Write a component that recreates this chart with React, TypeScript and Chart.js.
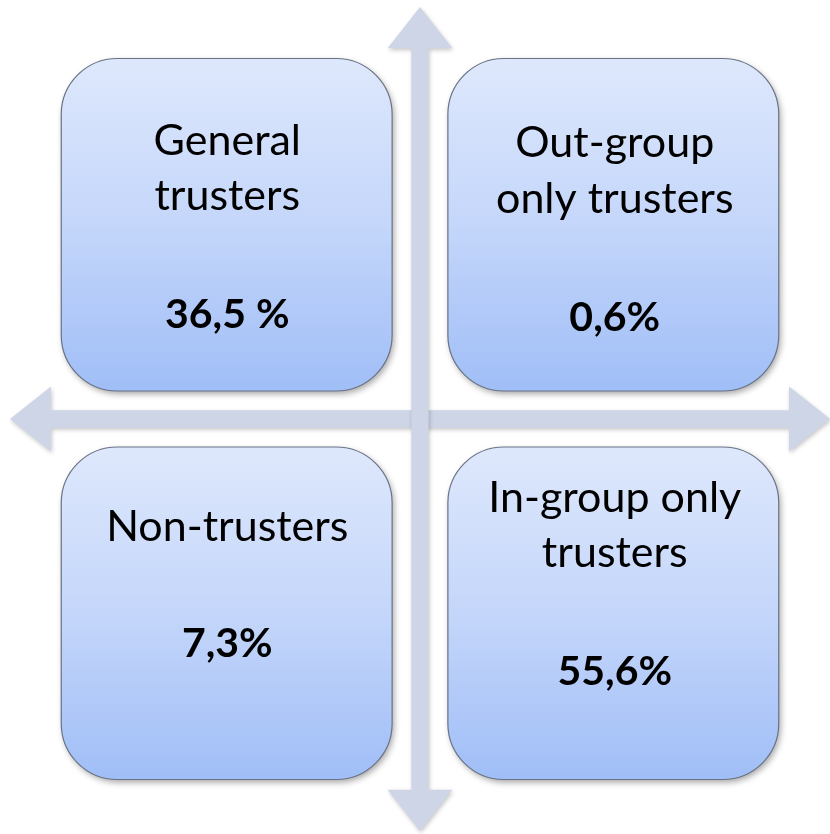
import React, { useEffect, useRef } from "react";
import { Chart, registerables } from "chart.js";

Chart.register(...registerables);

// Quadrant content
const quadrantLabels: string[][] = [
  ["General", "trusters"],
  ["Out-group", "only trusters"],
  ["Non-trusters"],
  ["In-group only", "trusters"],
];
const quadrantValues: string[] = ["36,5 %", "0,6%", "7,3%", "55,6%"];
// quadrant centres in axis units (x: -1..1, y: -1..1)
const quadrantX: number[] = [-0.47, 0.475, -0.47, 0.475];
const quadrantY: number[] = [0.472, 0.472, -0.47, -0.47];

// layout (axis units, text baselines)
const boxInner = 0.068;
const boxOuter = 0.875;
const labelLineY: number[][] = [
  [0.641, 0.507],
  [0.636, 0.5],
  [-0.296],
  [-0.226, -0.359],
];
const valueY: number[] = [0.221, 0.214, -0.578, -0.646];

const FONT = "Lato, 'Open Sans', sans-serif";

const quadrantPlugin = {
  id: "quadrants",
  beforeDatasetsDraw(chart: any) {
    const { ctx, scales } = chart;
    const xs = scales.x;
    const ys = scales.y;
    const px = (v: number) => xs.getPixelForValue(v);
    const py = (v: number) => ys.getPixelForValue(v);

    // arrows
    const shaft = 0.021;
    const headW = 0.079;
    const headLx = 0.1;
    const headLy = 0.1;
    ctx.save();
    ctx.fillStyle = "rgb(205,213,230)";
    ctx.shadowColor = "rgba(0,0,0,0.22)";
    ctx.shadowBlur = 4;
    ctx.shadowOffsetX = 1;
    ctx.shadowOffsetY = 2;
    // horizontal
    ctx.beginPath();
    ctx.moveTo(px(-1), py(0));
    ctx.lineTo(px(-1 + headLx), py(headW));
    ctx.lineTo(px(-1 + headLx), py(shaft));
    ctx.lineTo(px(1 - headLx), py(shaft));
    ctx.lineTo(px(1 - headLx), py(headW));
    ctx.lineTo(px(1), py(0));
    ctx.lineTo(px(1 - headLx), py(-headW));
    ctx.lineTo(px(1 - headLx), py(-shaft));
    ctx.lineTo(px(-1 + headLx), py(-shaft));
    ctx.lineTo(px(-1 + headLx), py(-headW));
    ctx.closePath();
    ctx.fill();
    // vertical
    ctx.beginPath();
    ctx.moveTo(px(0), py(1));
    ctx.lineTo(px(headW), py(1 - headLy));
    ctx.lineTo(px(shaft), py(1 - headLy));
    ctx.lineTo(px(shaft), py(-1 + headLy));
    ctx.lineTo(px(headW), py(-1 + headLy));
    ctx.lineTo(px(0), py(-1));
    ctx.lineTo(px(-headW), py(-1 + headLy));
    ctx.lineTo(px(-shaft), py(-1 + headLy));
    ctx.lineTo(px(-shaft), py(1 - headLy));
    ctx.lineTo(px(-headW), py(1 - headLy));
    ctx.closePath();
    ctx.fill();
    ctx.restore();

    // boxes
    quadrantX.forEach((cx, i) => {
      const sx = Math.sign(cx);
      const sy = Math.sign(quadrantY[i]);
      const x1 = px(sx < 0 ? -boxOuter : boxInner);
      const x2 = px(sx < 0 ? -boxInner : boxOuter);
      const y1 = py(sy > 0 ? boxOuter : -boxInner);
      const y2 = py(sy > 0 ? boxInner : -boxOuter);
      const w = x2 - x1;
      const h = y2 - y1;
      const r = 56;
      ctx.save();
      const g = ctx.createLinearGradient(0, y1, 0, y2);
      g.addColorStop(0, "rgb(222,232,252)");
      g.addColorStop(0.5, "rgb(196,214,250)");
      g.addColorStop(1, "rgb(160,190,247)");
      ctx.beginPath();
      ctx.roundRect(x1, y1, w, h, r);
      ctx.shadowColor = "rgba(0,0,0,0.35)";
      ctx.shadowBlur = 6;
      ctx.shadowOffsetX = 2;
      ctx.shadowOffsetY = 3;
      ctx.fillStyle = g;
      ctx.fill();
      ctx.shadowColor = "transparent";
      ctx.lineWidth = 1.2;
      ctx.strokeStyle = "rgb(105,115,135)";
      ctx.stroke();
      ctx.restore();

      // text
      ctx.save();
      ctx.fillStyle = "#000";
      ctx.textAlign = "center";
      ctx.textBaseline = "alphabetic";
      ctx.font = `400 43px ${FONT}`;
      quadrantLabels[i].forEach((line, j) => {
        ctx.fillText(line, px(cx), py(labelLineY[i][j]));
      });
      ctx.font = `700 41px ${FONT}`;
      ctx.fillText(quadrantValues[i], px(cx), py(valueY[i]));
      ctx.restore();
    });
  },
};

export default function App() {
  const ref = useRef<HTMLCanvasElement | null>(null);
  useEffect(() => {
    document.body.style.margin = "0";
    const canvas = ref.current!;
    const chart = new Chart(canvas, {
      type: "scatter",
      data: {
        datasets: [
          {
            data: quadrantX.map((x, i) => ({ x, y: quadrantY[i] })),
            pointRadius: 0,
            pointHoverRadius: 0,
          },
        ],
      },
      options: {
        responsive: false,
        animation: false,
        events: [],
        layout: { padding: { left: 10, right: 0, top: 7, bottom: 3 } },
        plugins: { legend: { display: false }, tooltip: { enabled: false } },
        scales: {
          x: { type: "linear", min: -1, max: 1, display: false },
          y: { type: "linear", min: -1, max: 1, display: false },
        },
      },
      plugins: [quadrantPlugin],
    });
    return () => chart.destroy();
  }, []);
  return (
    <div style={{ width: 830, height: 834, background: "#fff" }}>
      <canvas ref={ref} width={830} height={834} style={{ display: "block" }} />
    </div>
  );
}
